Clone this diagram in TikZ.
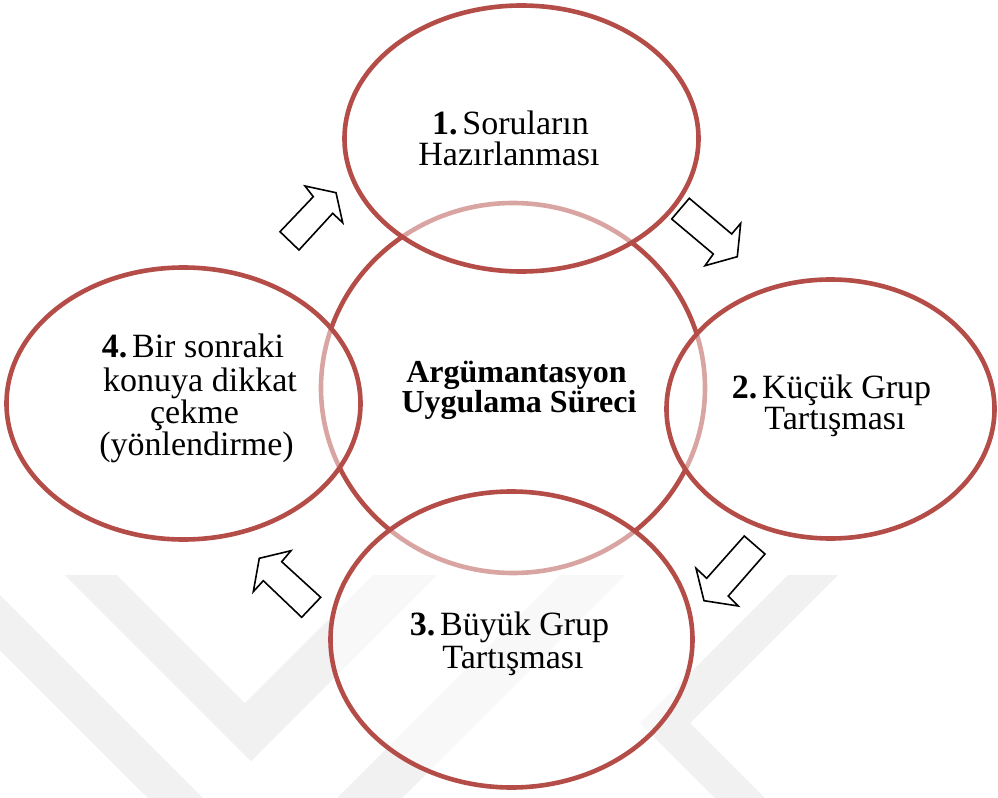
\documentclass[tikz,border=0pt]{standalone}
\usepackage{fontspec}
\setmainfont{Liberation Serif}
\usetikzlibrary{shapes.geometric}
\definecolor{ared}{RGB}{180,76,72}
\definecolor{wm}{RGB}{241,241,241}
\newcommand{\numgap}{\hspace{0.14em}}
\begin{document}
\begin{tikzpicture}[x=0.5pt,y=-0.5pt,
  ring/.style={ellipse, draw=ared, line width=2.3pt, inner sep=0pt, outer sep=0pt},
  outerring/.style={ring, fill=white, fill opacity=0.5},
  blockarrow/.style={draw=black, fill=white, line width=0.8pt, line join=miter},
  lbl/.style={anchor=base, inner sep=0pt, font=\fontsize{17}{17}\selectfont},
  blbl/.style={anchor=base, inner sep=0pt, font=\fontsize{16}{16}\selectfont\bfseries}]
\fill[white] (0,0) rectangle (998,798);
\useasboundingbox (0,0) rectangle (998,798);
% watermark
\fill[wm] (0,595) -- (203,798) -- (148,798) -- (0,650) -- cycle;
\fill[wm] (65,575) -- (117,575) -- (245,703) -- (373,575) -- (437,575) -- (251,761) -- cycle;
\fill[wm] (560,575) -- (625,575) -- (402,798) -- (337,798) -- cycle;
\fill[wm] (788,575) -- (838,575) -- (690,723) -- (765,798) -- (715,798) -- (640,723) -- cycle;
% central circle
\node[ring, minimum width=192pt, minimum height=185pt] (mid) at (513,388) {};
% outer ellipses
\node[outerring, minimum width=177pt, minimum height=133pt] (e1) at (521.5,138.5) {};
\node[outerring, minimum width=164pt, minimum height=129.5pt] (e2) at (830.5,409) {};
\node[outerring, minimum width=181pt, minimum height=148pt] (e3) at (511.5,639.5) {};
\node[outerring, minimum width=177pt, minimum height=136pt] (e4) at (183.5,403.5) {};
% block arrows
\draw[blockarrow] (280,231.7) -- (313.3,196.7) -- (305,186) -- (336,192.7) -- (342.7,222.7) -- (332.7,213.3) -- (299,250) -- cycle;
\draw[blockarrow] (689.3,198.3) -- (731.7,234) -- (740.7,223.3) -- (737.3,256.7) -- (705,265.7) -- (713.3,254) -- (671.7,219) -- cycle;
\draw[blockarrow] (744.3,536) -- (706.7,578.3) -- (696,568.3) -- (704,600.7) -- (738.3,606) -- (728.3,596) -- (765,554) -- cycle;
\draw[blockarrow] (320.7,597.3) -- (281.7,561.7) -- (291,550.7) -- (259.3,558.3) -- (253.3,591.7) -- (263.3,580.7) -- (301.7,617.3) -- cycle;
% texts
\node[lbl] (t1a) at (510.5,134) {\textbf{1.}\numgap Soruların};
\node[lbl] (t1b) at (509,165) {Hazırlanması};
\node[lbl] (t2a) at (831.5,398) {\textbf{2.}\numgap Küçük Grup};
\node[lbl] (t2b) at (835,429) {Tartışması};
\node[lbl] (t3a) at (509.5,635.5) {\textbf{3.}\numgap Büyük Grup};
\node[lbl] (t3b) at (513,668) {Tartışması};
\node[lbl] (t4a) at (193,357) {\textbf{4.}\numgap Bir sonraki};
\node[lbl] (t4b) at (200,391) {konuya dikkat};
\node[lbl] (t4c) at (194.5,423) {çekme};
\node[lbl] (t4d) at (196.5,455) {(yönlendirme)};
\node[blbl] (tca) at (516.5,382) {Argümantasyon};
\node[blbl] (tcb) at (519,412) {Uygulama Süreci};
\end{tikzpicture}
\end{document}
